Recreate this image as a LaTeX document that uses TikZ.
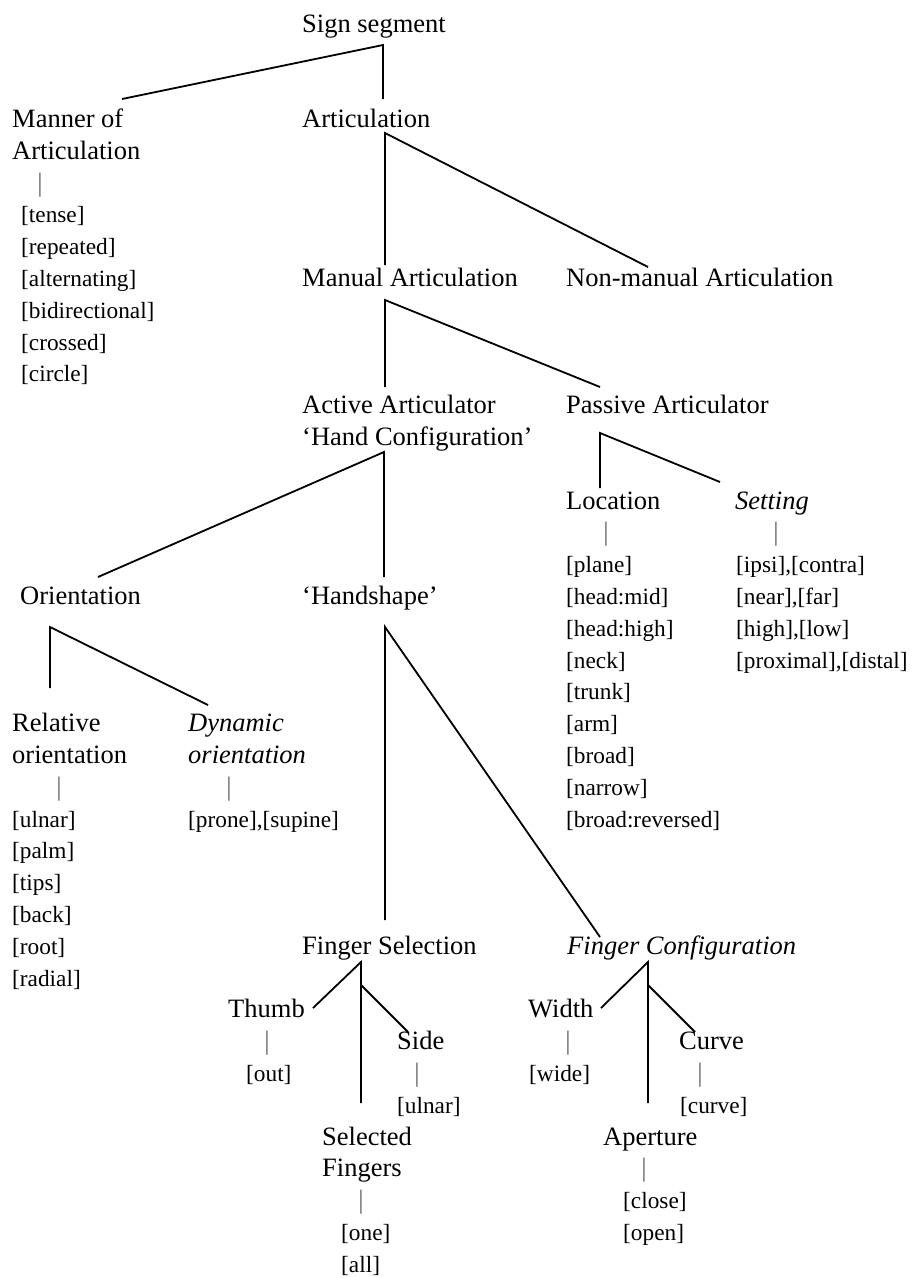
\documentclass[tikz,border=0pt]{standalone}
\usepackage{fontspec}
\setmainfont{Liberation Serif}
\usepackage{tikz}
\usetikzlibrary{positioning}
\tikzset{
  every node/.style={font=\fontsize{26.5}{31.8}\selectfont, inner sep=0pt},
  lbl/.style={anchor=base west, align=left},
  vals/.style={lbl, font=\fontsize{23.3}{31.8}\selectfont},
  bar/.style={anchor=base, text=black!60},
  branch/.style={line width=1.8pt},
}

\begin{document}
\begin{tikzpicture}[x=1pt, y=-1pt]
  \useasboundingbox (0,0) rectangle (913,1278);

  % top levels (multi-line labels sit on the baseline of their last line)
  \node[lbl] (sign) at (302,32) {Sign segment};
  \node[lbl] (manner) at (12,159.2) {Manner of\\Articulation};
  \node[bar] (mannerbar) at (40,191) {|};
  \node[vals] (mannerlist) at (21,381.8) {[tense]\\{}[repeated]\\{}[alternating]\\{}[bidirectional]\\{}[crossed]\\{}[circle]};
  \node[lbl] (artic) at (302,127.4) {Articulation};
  \node[lbl] (manual) at (302,286.4) {Manual Articulation};
  \node[lbl] (nonmanual) at (566,286.4) {Non-manual Articulation};
  \node[lbl] (active) at (302,445.4) {Active Articulator\\‘Hand Configuration’};
  \node[lbl] (passive) at (566,413.6) {Passive Articulator};

  % passive articulator
  \node[lbl] (loc) at (566,509) {Location};
  \node[bar] (locbar) at (606,540.8) {|};
  \node[vals] (loclist) at (566,827) {[plane]\\{}[head:mid]\\{}[head:high]\\{}[neck]\\{}[trunk]\\{}[arm]\\{}[broad]\\{}[narrow]\\{}[broad:reversed]};
  \node[lbl, font=\fontsize{26.5}{31.8}\selectfont\itshape] (setting) at (735,509) {Setting};
  \node[bar] (setbar) at (776,540.8) {|};
  \node[vals] (setlist) at (736,668) {[ipsi],[contra]\\{}[near],[far]\\{}[high],[low]\\{}[proximal],[distal]};

  % active articulator
  \node[lbl] (orient) at (20,604.4) {Orientation};
  \node[lbl] (hshape) at (302,604.4) {‘Handshape’};
  \node[lbl] (rel) at (12,763.4) {Relative\\orientation};
  \node[bar] (relbar) at (59,795.2) {|};
  \node[vals] (rellist) at (12,986) {[ulnar]\\{}[palm]\\{}[tips]\\{}[back]\\{}[root]\\{}[radial]};
  \node[lbl, font=\fontsize{26.5}{31.8}\selectfont\itshape] (dyn) at (188,763.4) {Dynamic\\orientation};
  \node[bar] (dynbar) at (229,795.2) {|};
  \node[vals] (dynlist) at (188,827) {[prone],[supine]};

  % handshape
  \node[lbl] (fsel) at (302,954.2) {Finger Selection};
  \node[lbl, font=\fontsize{26.5}{31.8}\selectfont\itshape] (fconf) at (567,954.2) {Finger Configuration};
  \node[lbl] (thumb) at (228,1017.8) {Thumb};
  \node[bar] (thumbbar) at (267,1049.6) {|};
  \node[vals] (thumbval) at (246,1081.4) {[out]};
  \node[lbl] (side) at (397,1049.6) {Side};
  \node[bar] (sidebar) at (417,1081.4) {|};
  \node[vals] (sideval) at (397,1113.2) {[ulnar]};
  \node[lbl] (selfing) at (322,1176.8) {Selected\\Fingers};
  \node[bar] (selbar) at (361,1208.6) {|};
  \node[vals] (sellist) at (341,1272.2) {[one]\\{}[all]};
  \node[lbl] (width) at (528,1017.8) {Width};
  \node[bar] (widthbar) at (568,1049.6) {|};
  \node[vals] (widthval) at (529,1081.4) {[wide]};
  \node[lbl] (curve) at (679,1049.6) {Curve};
  \node[bar] (curvebar) at (700,1081.4) {|};
  \node[vals] (curveval) at (680,1113.2) {[curve]};
  \node[lbl] (aper) at (603,1145) {Aperture};
  \node[bar] (aperbar) at (644,1176.8) {|};
  \node[vals] (aperlist) at (623,1240.4) {[close]\\{}[open]};

  % branch points
  \coordinate (sign-j) at (383,45);
  \coordinate (manner-t) at (122,99);
  \coordinate (artic-t) at (383,99);
  \coordinate (artic-j) at (385,133);
  \coordinate (manual-t) at (385,265);
  \coordinate (nonmanual-t) at (648,267);
  \coordinate (manual-j) at (385,300);
  \coordinate (active-t) at (385,387);
  \coordinate (passive-t) at (600,387);
  \coordinate (active-j) at (384,452);
  \coordinate (orient-t) at (98,577);
  \coordinate (hshape-t) at (384,577);
  \coordinate (passive-j) at (600,433);
  \coordinate (loc-t) at (600,488);
  \coordinate (setting-t) at (720,482);
  \coordinate (orient-j) at (50,627);
  \coordinate (rel-t) at (50,688);
  \coordinate (dyn-t) at (208,705);
  \coordinate (hshape-j) at (385,627);
  \coordinate (fsel-t) at (385,920);
  \coordinate (fconf-t) at (600,937);
  \coordinate (fsel-j) at (361,962);
  \coordinate (thumb-t) at (313,1008);
  \coordinate (selfing-t) at (361,1103);
  \coordinate (fsel-s) at (361,985);
  \coordinate (side-t) at (408,1032);
  \coordinate (fconf-j) at (648,962);
  \coordinate (width-t) at (601,1008);
  \coordinate (aper-t) at (648,1103);
  \coordinate (fconf-s) at (648,985);
  \coordinate (curve-t) at (695,1032);

  % branches
  \draw[branch] (manner-t) -- (sign-j) -- (artic-t);
  \draw[branch] (manual-t) -- (artic-j) -- (nonmanual-t);
  \draw[branch] (active-t) -- (manual-j) -- (passive-t);
  \draw[branch] (orient-t) -- (active-j) -- (hshape-t);
  \draw[branch] (loc-t) -- (passive-j) -- (setting-t);
  \draw[branch] (rel-t) -- (orient-j) -- (dyn-t);
  \draw[branch] (fsel-t) -- (hshape-j) -- (fconf-t);
  \draw[branch] (thumb-t) -- (fsel-j) -- (selfing-t);
  \draw[branch] (fsel-s) -- (side-t);
  \draw[branch] (width-t) -- (fconf-j) -- (aper-t);
  \draw[branch] (fconf-s) -- (curve-t);
\end{tikzpicture}
\end{document}
